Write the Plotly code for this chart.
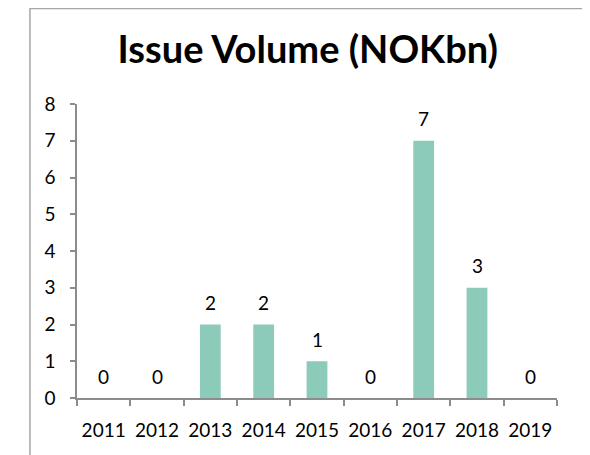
import plotly.graph_objects as go

years = ["2011", "2012", "2013", "2014", "2015", "2016", "2017", "2018", "2019"]
volumes = [0, 0, 2, 2, 1, 0, 7, 3, 0]
y_ticks = [0, 1, 2, 3, 4, 5, 6, 7, 8]

FONT = "Lato, 'Open Sans', sans-serif"
BAR = "#8ccbb9"
AXIS = "#8c8c8c"

fig = go.Figure()
fig.add_trace(go.Bar(
    x=years, y=volumes, marker=dict(color=BAR, line=dict(width=0)),
    width=0.39, hoverinfo="x+y",
))

for i, v in enumerate(volumes):
    fig.add_annotation(x=i, y=v, text=str(v), showarrow=False, yshift=22,
                       font=dict(family=FONT, size=19, color="#000"), yanchor="middle")

fig.add_shape(type="rect", xref="paper", yref="paper",
              x0=-0.098, x1=1.054, y0=-0.25, y1=1.325,
              line=dict(color="#a6a6a6", width=1.5), layer="below")

fig.update_layout(
    width=582, height=447,
    margin=dict(l=69, r=33, t=96, b=57),
    paper_bgcolor="white", plot_bgcolor="white",
    title=dict(text="<b>Issue Volume (NOKbn)</b>", x=0.515, xanchor="center",
               y=0.906, yanchor="middle",
               font=dict(family=FONT, size=38, color="#000")),
    showlegend=False,
    xaxis=dict(type="category", range=[-0.5, 8.5], showline=True, linecolor=AXIS, linewidth=1.5,
               ticks="outside", tickcolor=AXIS, ticklen=6, tickwidth=1.5,
               tickson="boundaries", showgrid=False, zeroline=False,
               tickangle=0, automargin=False,
               tickfont=dict(family=FONT, size=19, color="#000"),
               ticklabelstandoff=14),
    yaxis=dict(range=[0, 8], tickvals=y_ticks, showline=True, linecolor=AXIS,
               linewidth=1.5, ticks="outside", tickcolor=AXIS, ticklen=5,
               tickwidth=1.5, showgrid=False, zeroline=False, automargin=False,
               tickfont=dict(family=FONT, size=19, color="#000"),
               ticklabelstandoff=11),
)

fig.write_html("out.html")
